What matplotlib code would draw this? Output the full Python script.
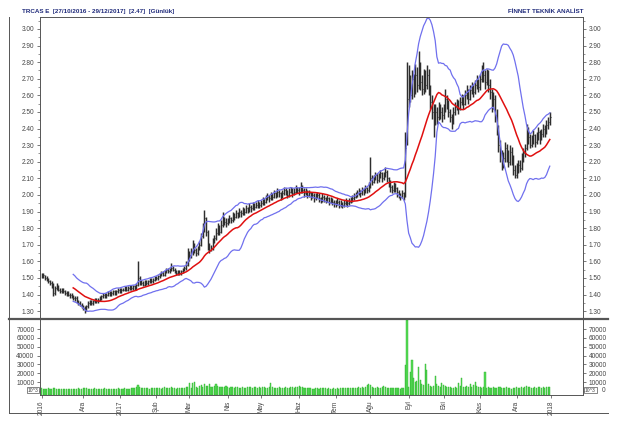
import numpy as np
import pandas as pd
import matplotlib
matplotlib.use("Agg")
import matplotlib.pyplot as plt
from matplotlib.lines import Line2D
from matplotlib.ticker import MultipleLocator, FixedLocator, FuncFormatter, FormatStrFormatter

plt.rcParams['font.family'] = ['Liberation Sans', 'DejaVu Sans']

title_left = "TRCAS E  [27/10/2016 - 29/12/2017]  [2.47]  [Günlük]"
title_right = "FİNNET TEKNİK ANALİST"
unit_label = "10^3"

month_labels = ["2016", "Ara", "2017", "Şub", "Mar", "Nis", "May", "Haz",
                "Tem", "Ağu", "Eyl", "Eki", "Kas", "Ara", "2018"]
# trading days per month: Oct16 .. Dec17
month_len = [3, 22, 22, 22, 20, 23, 20, 23, 22, 21, 23, 21, 22, 22, 21]

close = [
    1.51, 1.52, 1.50,
    1.49, 1.48, 1.47, 1.45, 1.41, 1.44, 1.45, 1.43, 1.42, 1.43, 1.42, 1.41, 1.41, 1.40, 1.40, 1.39, 1.38, 1.38, 1.36, 1.35, 1.34, 1.33,
    1.32, 1.31, 1.33, 1.35, 1.36, 1.35, 1.36, 1.37, 1.36, 1.37, 1.38, 1.39, 1.40, 1.39, 1.40, 1.41, 1.40, 1.41, 1.42, 1.41, 1.42, 1.43,
    1.42, 1.43, 1.43, 1.44, 1.43, 1.44, 1.45, 1.44, 1.45, 1.44, 1.46, 1.50, 1.48, 1.47, 1.46, 1.48, 1.47, 1.48, 1.49, 1.48, 1.49, 1.50,
    1.50, 1.51, 1.52, 1.53, 1.52, 1.54, 1.55, 1.54, 1.55, 1.56, 1.55, 1.54, 1.53, 1.54, 1.53, 1.54, 1.55, 1.56, 1.58, 1.62,
    1.64, 1.66, 1.70, 1.67, 1.65, 1.68, 1.70, 1.75, 1.80, 1.86, 1.78, 1.70, 1.67, 1.68, 1.72, 1.74, 1.77, 1.80, 1.78, 1.82, 1.86, 1.84, 1.83,
    1.84, 1.86, 1.85, 1.88, 1.87, 1.89, 1.88, 1.90, 1.89, 1.91, 1.90, 1.92, 1.91, 1.93, 1.92, 1.94, 1.93, 1.94, 1.95, 1.94,
    1.95, 1.97, 1.96, 1.98, 1.99, 1.98, 2.00, 1.99, 2.01, 2.00, 2.02, 2.01, 1.99, 2.01, 2.03, 2.02, 2.00, 2.02, 2.03, 2.01, 2.02, 2.04, 2.03,
    2.02, 2.04, 2.03, 2.01, 2.02, 2.00, 2.01, 1.99, 2.00, 1.98, 1.99, 2.00, 1.98, 1.97, 1.99, 1.98, 1.97, 1.98, 1.96, 1.97, 1.96, 1.95,
    1.95, 1.96, 1.94, 1.95, 1.94, 1.95, 1.96, 1.95, 1.96, 1.97, 1.98, 1.99, 2.00, 2.01, 2.02, 2.01, 2.03, 2.02, 2.04, 2.03, 2.05,
    2.10, 2.08, 2.10, 2.12, 2.09, 2.11, 2.13, 2.10, 2.12, 2.14, 2.10, 2.08, 2.05, 2.03, 2.06, 2.04, 2.02, 2.00, 1.99, 2.01, 1.99, 2.28, 2.58,
    2.68, 2.60, 2.70, 2.62, 2.72, 2.66, 2.75, 2.68, 2.64, 2.70, 2.66, 2.72, 2.63, 2.56, 2.50, 2.45, 2.50, 2.47, 2.52, 2.50, 2.48,
    2.52, 2.58, 2.55, 2.50, 2.47, 2.45, 2.50, 2.53, 2.55, 2.52, 2.56, 2.58, 2.55, 2.60, 2.62, 2.58, 2.63, 2.65, 2.62, 2.66, 2.68, 2.65,
    2.70, 2.74, 2.72, 2.68, 2.73, 2.66, 2.62, 2.55, 2.58, 2.48, 2.40, 2.30, 2.25, 2.18, 2.22, 2.28, 2.24, 2.20, 2.26, 2.22, 2.15, 2.12,
    2.14, 2.18, 2.16, 2.22, 2.25, 2.28, 2.38, 2.35, 2.30, 2.33, 2.36, 2.32, 2.35, 2.38, 2.34, 2.37, 2.40, 2.38, 2.42, 2.44, 2.47,
]

high = [
    1.53, 1.53, 1.52,
    1.51, 1.50, 1.49, 1.48, 1.47, 1.45, 1.47, 1.46, 1.44, 1.44, 1.44, 1.43, 1.42, 1.42, 1.41, 1.41, 1.40, 1.39, 1.39, 1.37, 1.36, 1.35,
    1.34, 1.33, 1.34, 1.36, 1.37, 1.37, 1.37, 1.38, 1.38, 1.38, 1.39, 1.40, 1.41, 1.41, 1.41, 1.42, 1.42, 1.42, 1.43, 1.43, 1.43, 1.44,
    1.44, 1.44, 1.44, 1.45, 1.45, 1.45, 1.46, 1.46, 1.46, 1.46, 1.47, 1.60, 1.51, 1.49, 1.48, 1.49, 1.49, 1.49, 1.50, 1.50, 1.50, 1.51,
    1.51, 1.52, 1.53, 1.54, 1.54, 1.55, 1.56, 1.56, 1.56, 1.59, 1.57, 1.56, 1.55, 1.55, 1.55, 1.55, 1.56, 1.57, 1.60, 1.68,
    1.66, 1.68, 1.73, 1.71, 1.68, 1.69, 1.72, 1.77, 1.83, 1.91, 1.87, 1.79, 1.71, 1.70, 1.74, 1.76, 1.80, 1.83, 1.82, 1.85, 1.90, 1.87, 1.86,
    1.86, 1.88, 1.87, 1.90, 1.89, 1.91, 1.90, 1.92, 1.91, 1.93, 1.92, 1.94, 1.93, 1.95, 1.94, 1.96, 1.95, 1.96, 1.97, 1.96,
    1.97, 1.99, 1.98, 2.00, 2.01, 2.00, 2.02, 2.01, 2.03, 2.02, 2.04, 2.03, 2.02, 2.03, 2.05, 2.04, 2.03, 2.04, 2.05, 2.04, 2.04, 2.06, 2.05,
    2.05, 2.08, 2.06, 2.04, 2.04, 2.03, 2.03, 2.02, 2.02, 2.01, 2.01, 2.02, 2.01, 1.99, 2.01, 2.00, 1.99, 2.00, 1.99, 1.99, 1.98, 1.97,
    1.97, 1.98, 1.97, 1.97, 1.96, 1.97, 1.98, 1.97, 1.98, 1.99, 2.00, 2.01, 2.02, 2.03, 2.04, 2.03, 2.05, 2.04, 2.06, 2.05, 2.08,
    2.23, 2.12, 2.12, 2.14, 2.13, 2.13, 2.15, 2.14, 2.14, 2.17, 2.15, 2.11, 2.09, 2.06, 2.08, 2.07, 2.05, 2.03, 2.01, 2.03, 2.02, 2.38, 2.80,
    2.78, 2.72, 2.75, 2.73, 2.79, 2.77, 2.87, 2.80, 2.72, 2.76, 2.75, 2.78, 2.76, 2.66, 2.60, 2.55, 2.55, 2.53, 2.56, 2.55, 2.53,
    2.55, 2.64, 2.60, 2.57, 2.52, 2.49, 2.53, 2.56, 2.58, 2.57, 2.59, 2.61, 2.60, 2.63, 2.66, 2.64, 2.66, 2.68, 2.67, 2.69, 2.72, 2.70,
    2.73, 2.78, 2.80, 2.75, 2.76, 2.75, 2.70, 2.64, 2.62, 2.60, 2.52, 2.42, 2.33, 2.27, 2.26, 2.32, 2.31, 2.27, 2.30, 2.29, 2.24, 2.18,
    2.19, 2.21, 2.21, 2.25, 2.28, 2.31, 2.43, 2.41, 2.37, 2.36, 2.39, 2.37, 2.38, 2.41, 2.39, 2.40, 2.43, 2.42, 2.45, 2.47, 2.50,
]

low = [
    1.50, 1.50, 1.49,
    1.48, 1.47, 1.46, 1.44, 1.39, 1.40, 1.43, 1.42, 1.41, 1.41, 1.41, 1.40, 1.39, 1.39, 1.38, 1.38, 1.37, 1.36, 1.35, 1.34, 1.33, 1.32,
    1.31, 1.29, 1.30, 1.32, 1.34, 1.34, 1.34, 1.35, 1.35, 1.35, 1.36, 1.37, 1.38, 1.38, 1.38, 1.39, 1.39, 1.39, 1.40, 1.40, 1.40, 1.41,
    1.41, 1.41, 1.42, 1.42, 1.42, 1.42, 1.43, 1.43, 1.43, 1.43, 1.43, 1.45, 1.46, 1.46, 1.45, 1.45, 1.46, 1.46, 1.47, 1.47, 1.47, 1.48,
    1.49, 1.49, 1.50, 1.51, 1.51, 1.51, 1.53, 1.53, 1.53, 1.54, 1.54, 1.53, 1.52, 1.52, 1.52, 1.52, 1.53, 1.54, 1.55, 1.57,
    1.60, 1.62, 1.64, 1.65, 1.63, 1.64, 1.67, 1.69, 1.74, 1.78, 1.75, 1.67, 1.65, 1.66, 1.67, 1.71, 1.73, 1.76, 1.76, 1.77, 1.81, 1.82, 1.81,
    1.82, 1.83, 1.83, 1.84, 1.85, 1.86, 1.86, 1.87, 1.87, 1.88, 1.88, 1.89, 1.89, 1.90, 1.90, 1.91, 1.91, 1.92, 1.92, 1.92,
    1.93, 1.94, 1.94, 1.95, 1.97, 1.96, 1.97, 1.97, 1.98, 1.98, 1.99, 1.99, 1.97, 1.98, 2.00, 2.00, 1.98, 1.99, 2.01, 1.99, 2.00, 2.01, 2.01,
    2.00, 2.01, 2.01, 1.99, 2.00, 1.98, 1.99, 1.97, 1.98, 1.96, 1.97, 1.98, 1.96, 1.95, 1.96, 1.96, 1.95, 1.96, 1.94, 1.95, 1.94, 1.93,
    1.93, 1.94, 1.92, 1.93, 1.92, 1.93, 1.94, 1.93, 1.94, 1.95, 1.96, 1.97, 1.98, 1.99, 2.00, 1.99, 2.00, 2.00, 2.01, 2.01, 2.02,
    2.04, 2.06, 2.07, 2.09, 2.07, 2.08, 2.10, 2.08, 2.09, 2.11, 2.08, 2.05, 2.02, 2.01, 2.02, 2.02, 1.99, 1.98, 1.97, 1.98, 1.97, 1.99, 2.30,
    2.53, 2.56, 2.58, 2.59, 2.61, 2.62, 2.64, 2.63, 2.60, 2.61, 2.62, 2.64, 2.60, 2.52, 2.46, 2.35, 2.42, 2.43, 2.45, 2.46, 2.44,
    2.46, 2.50, 2.52, 2.47, 2.44, 2.40, 2.43, 2.48, 2.51, 2.49, 2.51, 2.54, 2.52, 2.54, 2.58, 2.55, 2.57, 2.61, 2.59, 2.61, 2.64, 2.62,
    2.63, 2.68, 2.68, 2.64, 2.66, 2.62, 2.58, 2.50, 2.52, 2.44, 2.36, 2.26, 2.20, 2.15, 2.16, 2.20, 2.20, 2.17, 2.18, 2.18, 2.12, 2.10,
    2.10, 2.13, 2.14, 2.15, 2.20, 2.23, 2.27, 2.31, 2.28, 2.29, 2.31, 2.29, 2.31, 2.33, 2.31, 2.33, 2.35, 2.35, 2.37, 2.40, 2.42,
]

volume = [
    3000, 2500, 2800,
    2500, 3000, 2800, 2600, 3500, 3000, 2800, 2500, 2200, 2600, 2400, 2300, 2500, 2000, 2200, 2500, 2300, 2600, 2800, 3000, 2500, 2700,
    3200, 3500, 3000, 2800, 2600, 2500, 2800, 3000, 2700, 2500, 2400, 2600, 2800, 3000, 2700, 2500, 2200, 2400, 2600, 2500, 2800, 3000,
    2800, 2600, 2500, 3000, 2700, 2500, 2800, 3000, 3200, 3500, 4000, 6500, 4500, 3500, 3000, 3200, 3800, 3000, 2800, 3500, 3000, 3200,
    3000, 3500, 3200, 2800, 3500, 4000, 3500, 3000, 3200, 4500, 3500, 3000, 2800, 3200, 3000, 3500, 3800, 3500, 4200, 5000,
    9000, 3000, 9500, 10000, 5000, 3500, 6000, 7000, 4000, 8000, 5500, 6000, 7500, 5000, 4500, 5500, 8000, 6000, 4500, 5000, 4000, 4500, 6000,
    4000, 3500, 5000, 4500, 3800, 4200, 5000, 3500, 3000, 4000, 3800, 3500, 4500, 5000, 4200, 3800, 4500, 4000, 3500, 4000,
    3500, 4000, 4500, 3000, 3500, 4000, 9500, 4000, 3500, 3000, 3500, 4000, 3800, 3200, 3500, 4500, 3800, 3500, 4000, 4500, 3500, 4200, 4800,
    5500, 4500, 4000, 3500, 3000, 3200, 3500, 3000, 2800, 2500, 3000, 3200, 2800, 3000, 3500, 3200, 3000, 2800, 3000, 2600, 2800, 3000,
    2800, 3000, 2600, 3200, 3000, 3500, 3200, 3000, 3500, 3200, 3000, 3500, 3800, 3500, 4000, 3800, 4200, 3500, 4500, 7000, 8000,
    6500, 4000, 3500, 3800, 4000, 3500, 3800, 4500, 5500, 4000, 3500, 3200, 3000, 3500, 3200, 3000, 3500, 3000, 2800, 3200, 3000, 29000, 80000,
    5000, 22000, 35000, 15000, 10000, 11000, 27000, 12000, 8000, 7000, 30000, 24000, 8000, 6000, 5000, 6000, 17000, 8000, 6000, 5000, 9000,
    7000, 6000, 5000, 4000, 4000, 3000, 3000, 4000, 3000, 9000, 6000, 15000, 5000, 4000, 6000, 4000, 8000, 5000, 7000, 10000, 6000, 5000,
    4000, 3000, 4000, 21000, 3000, 4000, 3500, 3000, 4000, 3500, 3000, 4500, 4000, 3500, 3000, 3200, 4000, 3500, 3000, 2800, 3500, 3000,
    4000, 3500, 3200, 4500, 3800, 4000, 6000, 4500, 4000, 3500, 3800, 4200, 3500, 4000, 4500, 3800, 4000, 3500, 4000, 5000, 4500,
]

n = sum(month_len)
for name, arr in (("close", close), ("high", high), ("low", low), ("volume", volume)):
    if len(arr) != n:
        raise SystemExit(f"{name} has {len(arr)} values, expected {n}")

x = np.arange(n)
c = np.array(close)
sma = pd.Series(c).rolling(20).mean().to_numpy()
sd = pd.Series(c).rolling(20).std(ddof=0).to_numpy()
upper = sma + 2 * sd
lower = sma - 2 * sd

starts = np.cumsum([0] + month_len)
tick_pos = [starts[0]] + list(starts[2:])

W, H = 620, 424
fig = plt.figure(figsize=(W / 100, H / 100), dpi=100)
fig.patch.set_facecolor('white')

def fx(px):
    return px / W

def fy(py):
    return 1 - py / H

L, R = 40, 583
ax = fig.add_axes([fx(L), fy(319), fx(R - L), fy(17) - fy(319)])
axv = fig.add_axes([fx(L), fy(395), fx(R - L), fy(319) - fy(395)], sharex=ax)

bar_col = '#2e2e2e'
ax.vlines(x, low, high, color=bar_col, lw=1.05)
ax.hlines(c, x, x + 0.5, color=bar_col, lw=0.8)
ax.plot(x, upper, color='#7070ee', lw=0.9)
ax.plot(x, lower, color='#7070ee', lw=0.9)
ax.plot(x, sma, color='#e01010', lw=1.1)

ax.set_xlim(-1, 326)
ax.set_ylim(1.253, 3.072)

tick_col = '#444444'
for a in (ax, axv):
    for s in a.spines.values():
        s.set_color('#555555')
        s.set_linewidth(0.7)
    a.tick_params(axis='y', which='both', direction='out', labelsize=4.7,
                  colors=tick_col, left=True, right=True, labelleft=True,
                  labelright=True, pad=1.5)
    a.tick_params(axis='y', which='major', length=2.5, width=0.5)
    a.tick_params(axis='y', which='minor', length=1.5, width=0.4)

ax.yaxis.set_major_locator(MultipleLocator(0.10))
ax.yaxis.set_minor_locator(MultipleLocator(0.05))
ax.yaxis.set_major_formatter(FormatStrFormatter('%.2f'))
ax.tick_params(axis='x', which='both', bottom=False, labelbottom=False)

vol_bottom = -4500
axv.bar(x, np.array(volume) - vol_bottom, bottom=vol_bottom, width=0.65,
        color='#55dd55', edgecolor='#2fb02f', linewidth=0.3)
axv.set_ylim(vol_bottom, 81300)
axv.yaxis.set_major_locator(FixedLocator([0, 10000, 20000, 30000, 40000, 50000, 60000, 70000]))
axv.yaxis.set_major_formatter(FuncFormatter(lambda v, p: '' if v == 0 else '%d' % v))
axv.yaxis.set_minor_locator(FixedLocator([]))
axv.set_xticks(tick_pos)
axv.set_xticklabels(month_labels, rotation=90, fontsize=4.7, color=tick_col)
axv.tick_params(axis='x', direction='out', length=2.5, width=0.5, pad=1.5, colors=tick_col)

# "10^3" unit boxes and the right-hand zero label
for xp, ha in ((38, 'right'), (585, 'left')):
    fig.text(fx(xp), fy(390), unit_label, fontsize=3.6, color=tick_col, ha=ha, va='center',
             bbox=dict(boxstyle='square,pad=0.15', fc='white', ec='#555555', lw=0.5))
fig.text(fx(602), fy(390.5), "0", fontsize=4.7, color=tick_col, ha='left', va='center')

# titles
fig.text(fx(22), fy(11.5), title_left, fontsize=4.5, fontweight='bold', color='#1f2a7a',
         ha='left', va='center')
fig.text(fx(583), fy(11.5), title_right, fontsize=4.5, fontweight='bold', color='#1f2a7a',
         ha='right', va='center')

# frame lines
frame_col = '#555555'
fig.add_artist(Line2D([fx(9), fx(608)], [fy(319), fy(319)], color='#555555', lw=1.6))
fig.add_artist(Line2D([fx(9), fx(9)], [fy(17), fy(413)], color=frame_col, lw=0.7))
fig.add_artist(Line2D([fx(9), fx(608)], [fy(413), fy(413)], color=frame_col, lw=0.7))

fig.savefig('out.png', dpi=100, facecolor='white')
